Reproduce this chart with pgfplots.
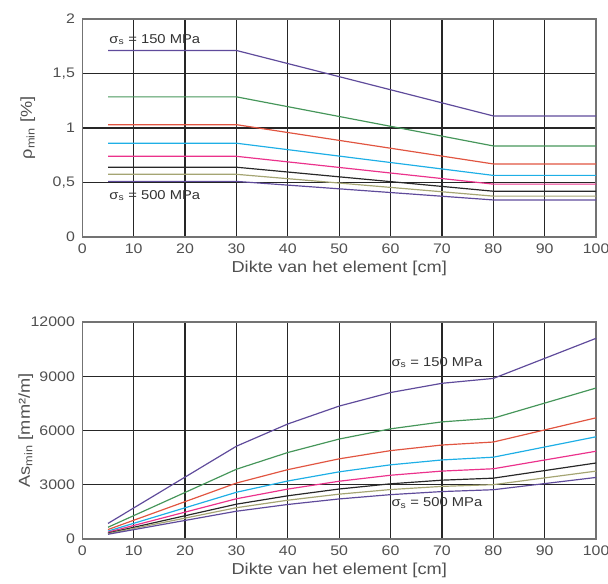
\documentclass[border=0pt]{standalone}
\usepackage{fontspec}
\setmainfont{Liberation Sans}[FakeStretch=1.15]
\usepackage{pgfplots}
\pgfplotsset{compat=1.18}

\definecolor{cPurple}{RGB}{95,75,155}
\definecolor{cGreen}{RGB}{70,150,90}
\definecolor{cRed}{RGB}{225,85,65}
\definecolor{cCyan}{RGB}{30,175,230}
\definecolor{cMagenta}{RGB}{235,50,140}
\definecolor{cBlack}{RGB}{40,40,40}
\definecolor{cOlive}{RGB}{165,165,115}
\definecolor{txt}{RGB}{80,80,80}

\tikzset{anno/.style={anchor=west, font=\fontsize{13}{15}\selectfont, text=black!80}}

\pgfplotsset{
  steelaxis/.style={
    scale only axis,
    width=518bp,
    xmin=0, xmax=100,
    xtick={0,10,...,100},
    grid=major,
    major grid style={black!85, line width=1.3bp},
    axis line style={black!55, line width=1.4bp},
    major tick length=0pt,
    scaled ticks=false,
    tick label style={font=\fontsize{14}{16}\selectfont, text=txt},
    xticklabel style={anchor=center, yshift=-12bp},
    yticklabel style={anchor=east, xshift=-4bp},
    label style={font=\fontsize{16}{18}\selectfont, text=txt},
    xlabel style={at={(axis description cs:0.5,0)}, anchor=center, yshift=-32bp},
    /pgf/number format/.cd, use comma, 1000 sep={}, assume math mode=true,
    /pgfplots/.cd,
    every axis plot/.append style={line width=1.2bp, no markers},
    clip=false,
  },
}

\begin{document}
\begin{tikzpicture}
\useasboundingbox (0,0) rectangle (613bp,588bp);

% minimum reinforcement ratio against element thickness
\begin{axis}[steelaxis,
  at={(83bp,349bp)}, anchor=south west,
  height=220bp,
  ymin=0, ymax=2, ytick={0,0.5,1,1.5,2},
  xlabel={Dikte van het element [cm]},
  ylabel={ρ\textsubscript{min} [\%]},
  ylabel style={at={(axis description cs:-0.106,0.5)}, anchor=center},
]
\addplot[cPurple]   coordinates {(5,1.71) (30,1.71) (80,1.11) (100,1.11)};
\addplot[cGreen]    coordinates {(5,1.285) (30,1.285) (80,0.835) (100,0.835)};
\addplot[cRed]      coordinates {(5,1.03) (30,1.03) (80,0.67) (100,0.67)};
\addplot[cCyan]     coordinates {(5,0.86) (30,0.86) (80,0.565) (100,0.565)};
\addplot[cMagenta]  coordinates {(5,0.74) (30,0.74) (80,0.485) (100,0.485)};
\addplot[cBlack]    coordinates {(5,0.64) (30,0.64) (80,0.42) (100,0.42)};
\addplot[cOlive]    coordinates {(5,0.575) (30,0.575) (80,0.375) (100,0.375)};
\addplot[cPurple]   coordinates {(5,0.51) (30,0.51) (80,0.34) (100,0.34)};
\node[anno] at (axis cs:4.6,1.81) {σ\textsubscript{s} = 150 MPa};
\node[anno] at (axis cs:4.6,0.38) {σ\textsubscript{s} = 500 MPa};
\end{axis}

% minimum reinforcement area per metre
\begin{axis}[steelaxis,
  at={(83bp,44.7bp)}, anchor=south west,
  height=218.6bp,
  ymin=0, ymax=12000, ytick={0,3000,...,12000},
  xlabel={Dikte van het element [cm]},
  ylabel={As\textsubscript{min} [mm²/m]},
  ylabel style={at={(axis description cs:-0.110,0.5)}, anchor=center},
]
\addplot[cPurple]  coordinates {(5,855) (10,1710) (20,3420) (30,5130) (40,6360) (50,7350) (60,8100) (70,8610) (80,8880) (90,9990) (100,11100)};
\addplot[cGreen]   coordinates {(5,643) (10,1285) (20,2570) (30,3855) (40,4780) (50,5525) (60,6090) (70,6475) (80,6680) (90,7515) (100,8350)};
\addplot[cRed]     coordinates {(5,515) (10,1030) (20,2060) (30,3090) (40,3832) (50,4430) (60,4884) (70,5194) (80,5360) (90,6030) (100,6700)};
\addplot[cCyan]    coordinates {(5,430) (10,860) (20,1720) (30,2580) (40,3204) (50,3710) (60,4098) (70,4368) (80,4520) (90,5085) (100,5650)};
\addplot[cMagenta] coordinates {(5,370) (10,740) (20,1480) (30,2220) (40,2756) (50,3190) (60,3522) (70,3752) (80,3880) (90,4365) (100,4850)};
\addplot[cBlack]   coordinates {(5,320) (10,640) (20,1280) (30,1920) (40,2384) (50,2760) (60,3048) (70,3248) (80,3360) (90,3780) (100,4200)};
\addplot[cOlive]   coordinates {(5,288) (10,575) (20,1150) (30,1725) (40,2140) (50,2475) (60,2730) (70,2905) (80,3000) (90,3375) (100,3750)};
\addplot[cPurple]  coordinates {(5,255) (10,510) (20,1020) (30,1530) (40,1904) (50,2210) (60,2448) (70,2618) (80,2720) (90,3060) (100,3400)};
\node[anno] at (axis cs:59.5,9760) {σ\textsubscript{s} = 150 MPa};
\node[anno] at (axis cs:59.5,1990) {σ\textsubscript{s} = 500 MPa};
\end{axis}
\end{tikzpicture}
\end{document}
